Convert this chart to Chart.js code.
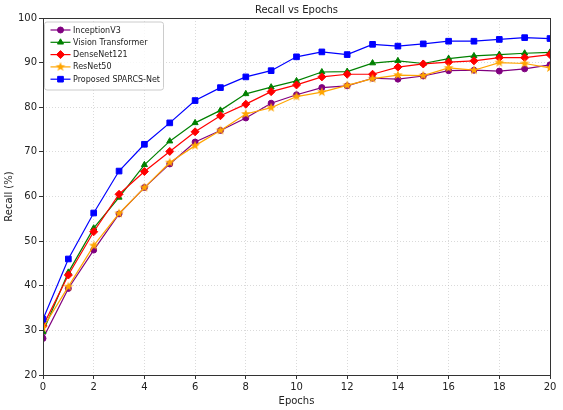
<!DOCTYPE html>
<html>
<head>
<meta charset="utf-8">
<script src="https://cdn.jsdelivr.net/npm/chart.js@4.4.0/dist/chart.umd.min.js"></script>
<style>
  body { margin: 0; background: #fff; }
  #wrap { width: 563px; height: 410px; }
</style>
</head>
<body>
<div id="wrap"><canvas id="recallChart" width="563" height="410"></canvas></div>
<script>
// values
const epochs = [0, 1, 2, 3, 4, 5, 6, 7, 8, 9, 10, 11, 12, 13, 14, 15, 16, 17, 18, 19, 20];
const inceptionV3 = [28.2, 39.4, 48.0, 56.1, 62.0, 67.3, 72.2, 74.8, 77.6, 80.9, 82.8, 84.4, 84.8, 86.5, 86.3, 87.0, 88.2, 88.3, 88.1, 88.6, 89.5];
const visionTransformer = [29.7, 43.0, 52.9, 59.8, 67.1, 72.4, 76.5, 79.3, 83.0, 84.5, 85.9, 87.9, 88.0, 89.9, 90.4, 89.8, 90.9, 91.5, 91.8, 92.1, 92.3];
const denseNet121 = [31.0, 42.4, 52.1, 60.5, 65.6, 70.1, 74.5, 78.1, 80.7, 83.5, 85.0, 86.8, 87.4, 87.4, 89.0, 89.7, 90.1, 90.4, 91.1, 91.1, 91.8];
const resNet50 = [30.6, 39.8, 49.0, 56.2, 62.0, 67.6, 71.4, 74.8, 78.5, 79.9, 82.4, 83.4, 84.9, 86.4, 87.2, 87.1, 88.8, 88.3, 90.0, 89.8, 88.8];
const sparcsNet = [32.5, 46.0, 56.3, 65.7, 71.7, 76.5, 81.5, 84.4, 86.8, 88.2, 91.3, 92.4, 91.8, 94.1, 93.7, 94.2, 94.8, 94.8, 95.2, 95.6, 95.4];
const yTicks = [20, 30, 40, 50, 60, 70, 80, 90, 100];
const xTicks = [0, 2, 4, 6, 8, 10, 12, 14, 16, 18, 20];

// matplotlib style filled star, chart.js 'star' is only an outline
function makeStar(color) {
  const c = document.createElement('canvas');
  c.width = 12; c.height = 12;
  const g = c.getContext('2d');
  g.beginPath();
  for (let i = 0; i < 10; i++) {
    const r = i % 2 == 0 ? 5 : 2.1;
    const a = -Math.PI / 2 + i * Math.PI / 5;
    const px = 6 + r * Math.cos(a), py = 6 + r * Math.sin(a);
    if (i == 0) g.moveTo(px, py); else g.lineTo(px, py);
  }
  g.closePath();
  g.fillStyle = color;
  g.fill();
  return c;
}
const starImg = makeStar('#ffa500');

function series(label, values, color, style, radius) {
  return {
    label: label,
    data: epochs.map((e, i) => ({ x: e, y: values[i] })),
    borderColor: color,
    backgroundColor: color,
    pointBackgroundColor: color,
    pointBorderColor: color,
    pointStyle: style,
    pointRadius: radius,
    pointHoverRadius: radius,
    pointBorderWidth: 1,
    borderWidth: 1.2,
    tension: 0
  };
}

const datasets = [
  series('InceptionV3', inceptionV3, '#800080', 'circle', 3),
  series('Vision Transformer', visionTransformer, '#008000', 'triangle', 3.5),
  series('DenseNet121', denseNet121, '#ff0000', 'rectRot', 4),
  series('ResNet50', resNet50, '#ffa500', starImg, 4),
  series('Proposed SPARCS-Net', sparcsNet, '#0000ff', 'rect', 4)
];
// later series on top, like matplotlib
datasets.forEach((d, i) => d.order = datasets.length - i);

const framePlugin = {
  id: 'frame',
  afterDraw(chart) {
    const ctx = chart.ctx;
    const a = chart.chartArea;
    ctx.save();
    ctx.strokeStyle = '#333';
    ctx.lineWidth = 1;
    ctx.strokeRect(Math.round(a.left) + 0.5, Math.round(a.top) + 0.5, Math.round(a.right - a.left), Math.round(a.bottom - a.top));

    // title over the plot area
    ctx.fillStyle = '#222';
    ctx.font = '10px "DejaVu Sans"';
    ctx.textAlign = 'center';
    ctx.textBaseline = 'middle';
    ctx.fillText('Recall vs Epochs', (a.left + a.right) / 2, 10.5);

    // legend box inside the axes, upper left
    const bx = a.left + 1.5, by = a.top + 4, bw = 119, bh = 68;
    ctx.beginPath();
    ctx.roundRect(bx, by, bw, bh, 2.5);
    ctx.fillStyle = 'rgba(255,255,255,0.8)';
    ctx.fill();
    ctx.strokeStyle = '#cccccc';
    ctx.lineWidth = 1;
    ctx.stroke();

    ctx.font = '8px "DejaVu Sans"';
    ctx.textAlign = 'left';
    chart.data.datasets.forEach((d, i) => {
      const y = by + 8 + i * 12.3;
      ctx.strokeStyle = d.borderColor;
      ctx.lineWidth = 1.2;
      ctx.beginPath();
      ctx.moveTo(bx + 6, y);
      ctx.lineTo(bx + 26, y);
      ctx.stroke();
      ctx.fillStyle = d.pointBackgroundColor;
      ctx.strokeStyle = d.pointBorderColor;
      ctx.lineWidth = 1;
      if (Chart.helpers && Chart.helpers.drawPoint) {
        Chart.helpers.drawPoint(ctx, { pointStyle: d.pointStyle, radius: d.pointRadius, rotation: 0, borderWidth: 1 }, bx + 16, y);
      }
      ctx.fillStyle = '#222';
      ctx.fillText(d.label, bx + 28.5, y + 0.5);
    });
    ctx.restore();
  }
};

const ctx = document.getElementById('recallChart').getContext('2d');
new Chart(ctx, {
  type: 'line',
  data: { datasets: datasets },
  options: {
    responsive: false,
    animation: false,
    layout: { padding: { top: 18, right: 13, left: 0, bottom: 0 } },
    plugins: {
      legend: { display: false },
      tooltip: { enabled: false }
    },
    scales: {
      x: {
        type: 'linear',
        min: 0,
        max: 20,
        afterBuildTicks: (s) => { s.ticks = xTicks.map(v => ({ value: v })); },
        afterFit: (s) => { s.height = 35; },
        ticks: { color: '#222', font: { family: 'DejaVu Sans', size: 10 }, padding: 2, maxRotation: 0 },
        grid: { color: 'rgba(176,176,176,0.6)', lineWidth: 0.8, tickColor: '#333', tickLength: 4, tickWidth: 1 },
        border: { display: false, dash: [1, 2] },
        title: { display: true, text: 'Epochs', color: '#222', font: { family: 'DejaVu Sans', size: 10 }, padding: { top: 0, bottom: 3 } }
      },
      y: {
        min: 20,
        max: 100,
        afterBuildTicks: (s) => { s.ticks = yTicks.map(v => ({ value: v })); },
        afterFit: (s) => { s.width = 43; },
        ticks: { color: '#222', font: { family: 'DejaVu Sans', size: 10 }, padding: 2 },
        grid: { color: 'rgba(176,176,176,0.6)', lineWidth: 0.8, tickColor: '#333', tickLength: 4, tickWidth: 1 },
        border: { display: false, dash: [1, 2] },
        title: { display: true, text: 'Recall (%)', color: '#222', font: { family: 'DejaVu Sans', size: 10 }, padding: { top: 3, bottom: 0 } }
      }
    }
  },
  plugins: [framePlugin]
});
</script>
</body>
</html>
